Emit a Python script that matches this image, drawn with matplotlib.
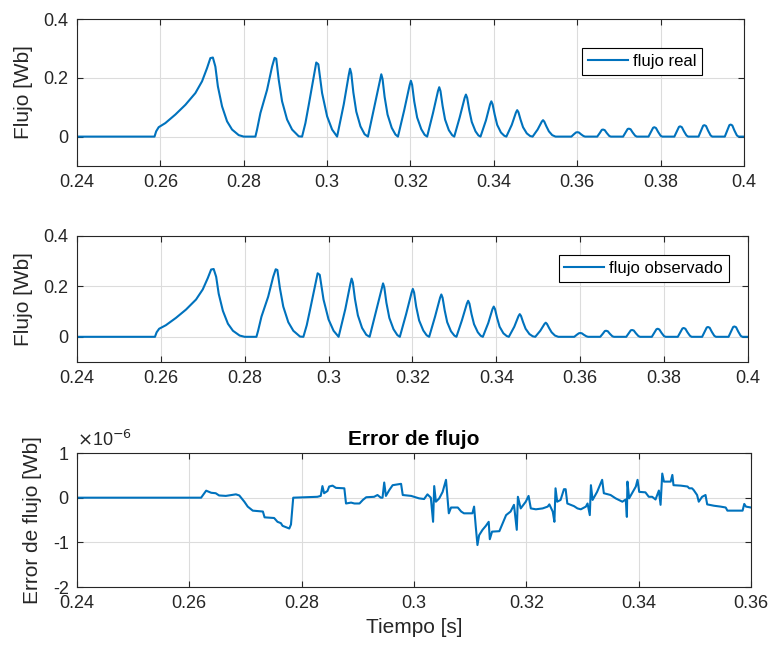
import matplotlib.pyplot as plt

plt.rcParams["font.family"] = ["Liberation Sans", "DejaVu Sans"]

LINE_COLOR = "#0072BD"
AXIS_COLOR = "#262626"

# flujo real (Wb)
t_flujo = [
    0.2400, 0.2586, 0.2590, 0.2596, 0.2612, 0.2636, 0.2660, 0.2684, 0.2700, 0.2712,
    0.2720, 0.2726, 0.2732, 0.2738, 0.2748, 0.2760, 0.2772, 0.2788, 0.2800, 0.2828,
    0.2832, 0.2840, 0.2856, 0.2868, 0.2874, 0.2878, 0.2884, 0.2892, 0.2904, 0.2916,
    0.2932, 0.2940, 0.2948, 0.2956, 0.2968, 0.2974, 0.2979, 0.2988, 0.3000, 0.3012,
    0.3024,
    0.3040, 0.3052, 0.3055, 0.3058, 0.3063, 0.3070, 0.3080, 0.3090, 0.3098,
    0.3113, 0.3127, 0.3130, 0.3133, 0.3138, 0.3145, 0.3155, 0.3164, 0.3170,
    0.3185, 0.3198, 0.3201, 0.3204, 0.3209, 0.3216, 0.3226, 0.3234, 0.3240,
    0.3254, 0.3266, 0.3269, 0.3272, 0.3277, 0.3283, 0.3292, 0.3300, 0.3305,
    0.3318, 0.3330, 0.3333, 0.3336, 0.3341, 0.3347, 0.3356, 0.3363, 0.3368,
    0.3381, 0.3391, 0.3394, 0.3397, 0.3402, 0.3408, 0.3417, 0.3425, 0.3430,
    0.3443, 0.3453, 0.3456, 0.3459, 0.3464, 0.3470, 0.3479, 0.3487, 0.3493,
    0.3505, 0.3515, 0.3518, 0.3521, 0.3526, 0.3532, 0.3540, 0.3548,
    0.3586, 0.3592, 0.3597, 0.3600, 0.3604, 0.3609, 0.3615, 0.3619,
    0.3648, 0.3654, 0.3659, 0.3662, 0.3666, 0.3671, 0.3677, 0.3681,
    0.3710, 0.3716, 0.3721, 0.3724, 0.3728, 0.3733, 0.3739, 0.3743,
    0.3771, 0.3777, 0.3782, 0.3785, 0.3789, 0.3794, 0.3800, 0.3804,
    0.3833, 0.3839, 0.3844, 0.3847, 0.3851, 0.3856, 0.3862, 0.3866,
    0.3891, 0.3897, 0.3902, 0.3905, 0.3909, 0.3914, 0.3920, 0.3924,
    0.3954, 0.3960, 0.3965, 0.3968, 0.3972, 0.3977, 0.3983, 0.3987, 0.4000,
]
flujo_real = [
    0.000, 0.000, 0.018, 0.032, 0.046, 0.075, 0.108, 0.148, 0.188, 0.233,
    0.267, 0.269, 0.238, 0.171, 0.103, 0.052, 0.024, 0.005, 0.000, 0.000,
    0.024, 0.080, 0.159, 0.238, 0.268, 0.265, 0.193, 0.120, 0.058, 0.024,
    0.001, 0.000, 0.046, 0.108, 0.205, 0.252, 0.246, 0.148, 0.069, 0.024,
    0.000,
    0.110, 0.210, 0.231, 0.215, 0.150, 0.085, 0.035, 0.008, 0.000,
    0.100, 0.195, 0.212, 0.196, 0.135, 0.075, 0.030, 0.007, 0.000,
    0.090, 0.175, 0.190, 0.176, 0.120, 0.065, 0.025, 0.006, 0.000,
    0.080, 0.155, 0.168, 0.155, 0.105, 0.058, 0.022, 0.005, 0.000,
    0.065, 0.132, 0.143, 0.132, 0.090, 0.050, 0.018, 0.004, 0.000,
    0.055, 0.110, 0.120, 0.110, 0.075, 0.040, 0.014, 0.003, 0.000,
    0.040, 0.082, 0.090, 0.083, 0.058, 0.032, 0.011, 0.002, 0.000,
    0.024, 0.051, 0.056, 0.051, 0.035, 0.018, 0.005, 0.000,
    0.000, 0.008, 0.014, 0.015, 0.014, 0.008, 0.002, 0.000,
    0.000, 0.012, 0.023, 0.024, 0.022, 0.012, 0.002, 0.000,
    0.000, 0.014, 0.026, 0.027, 0.025, 0.014, 0.003, 0.000,
    0.000, 0.016, 0.030, 0.032, 0.029, 0.016, 0.003, 0.000,
    0.000, 0.018, 0.033, 0.035, 0.032, 0.018, 0.004, 0.000,
    0.000, 0.020, 0.037, 0.039, 0.036, 0.020, 0.004, 0.000,
    0.000, 0.021, 0.039, 0.041, 0.038, 0.021, 0.004, 0.000, 0.000,
]
# el observado difiere del real en ~1e-6 Wb, no se distingue a esta escala
flujo_obs = list(flujo_real)

# error de flujo, en unidades de 1e-6 Wb
t_error = [
    0.2400, 0.2621, 0.2630, 0.2639, 0.2647, 0.2653, 0.2665, 0.2683, 0.2689, 0.2698,
    0.2704, 0.2713, 0.2731, 0.2734, 0.2751, 0.2757, 0.2763, 0.2766, 0.2778, 0.2781,
    0.2785, 0.2828, 0.2834, 0.2837, 0.2840, 0.2846, 0.2849, 0.2855, 0.2861, 0.2876,
    0.2879, 0.2888, 0.2894, 0.2903, 0.2909, 0.2915, 0.2929, 0.2935, 0.2941, 0.2944,
    0.2947, 0.2950, 0.2956, 0.2962, 0.2977, 0.2980, 0.2995, 0.3009, 0.3018, 0.3024,
    0.3030, 0.3034, 0.3036, 0.3039, 0.3045, 0.3051, 0.3057, 0.3062, 0.3066, 0.3078,
    0.3084, 0.3089, 0.3104, 0.3107, 0.3110, 0.3113, 0.3116, 0.3122, 0.3128, 0.3133,
    0.3135, 0.3139, 0.3152, 0.3158, 0.3164, 0.3172, 0.3178, 0.3183, 0.3185, 0.3190,
    0.3199, 0.3204, 0.3208, 0.3217, 0.3229, 0.3238, 0.3241, 0.3247, 0.3250, 0.3252,
    0.3255, 0.3261, 0.3267, 0.3270, 0.3273, 0.3285, 0.3291, 0.3297, 0.3306, 0.3309,
    0.3313, 0.3315, 0.3318, 0.3326, 0.3335, 0.3338, 0.3350, 0.3359, 0.3371, 0.3377,
    0.3379, 0.3380, 0.3383, 0.3395, 0.3398, 0.3401, 0.3412, 0.3418, 0.3424, 0.3430,
    0.3433, 0.3436, 0.3439, 0.3442, 0.3445, 0.3457, 0.3460, 0.3462, 0.3475, 0.3487,
    0.3490, 0.3495, 0.3498, 0.3504, 0.3507, 0.3513, 0.3519, 0.3522, 0.3534, 0.3546,
    0.3555, 0.3558, 0.3585, 0.3588, 0.3591, 0.3600,
]
error_flujo = [
    0.000, 0.000, 0.157, 0.110, 0.100, 0.050, 0.040, 0.075, 0.050, -0.090,
    -0.200, -0.290, -0.310, -0.440, -0.455, -0.540, -0.570, -0.630, -0.690, -0.600,
    0.000, 0.020, 0.040, 0.260, 0.100, 0.150, 0.250, 0.270, 0.220, 0.210,
    -0.130, -0.110, -0.130, -0.130, -0.050, 0.010, 0.020, 0.060, 0.000, 0.000,
    0.340, 0.040, 0.170, 0.280, 0.310, 0.060, 0.040, -0.015, -0.030, 0.075,
    0.000, -0.540, 0.260, -0.090, -0.015, 0.130, 0.400, -0.350, -0.220, -0.220,
    -0.310, -0.350, -0.350, -0.200, -0.650, -1.060, -0.840, -0.720, -0.630, -0.540,
    -0.930, -0.760, -0.750, -0.570, -0.390, -0.310, -0.160, -0.720, 0.020, -0.240,
    -0.090, 0.040, -0.240, -0.260, -0.240, -0.200, -0.150, -0.310, -0.540, 0.210,
    -0.090, -0.050, 0.190, 0.190, -0.130, -0.190, -0.240, -0.260, -0.200, -0.130,
    -0.390, 0.280, -0.050, 0.130, 0.400, 0.100, 0.060, -0.015, -0.090, -0.040,
    -0.430, 0.360, -0.015, 0.250, 0.400, 0.130, 0.120, 0.020, 0.020, -0.040,
    0.060, 0.160, -0.160, 0.540, 0.360, 0.360, 0.510, 0.280, 0.270, 0.250,
    0.210, 0.210, 0.170, 0.060, -0.090, 0.020, 0.060, -0.150, -0.180, -0.200,
    -0.220, -0.290, -0.290, -0.140, -0.200, -0.220,
]

xticks_flujo = [0.24, 0.26, 0.28, 0.3, 0.32, 0.34, 0.36, 0.38, 0.4]
xticks_error = [0.24, 0.26, 0.28, 0.3, 0.32, 0.34, 0.36]


def style_axes(ax):
    ax.grid(True, color="#dcdcdc", linewidth=0.8)
    ax.set_axisbelow(True)
    ax.tick_params(direction="in", top=True, right=True, length=4,
                   labelsize=13, colors=AXIS_COLOR, pad=6)
    for spine in ax.spines.values():
        spine.set_color(AXIS_COLOR)
        spine.set_linewidth(0.8)


def tick_text(v):
    return f"{v:g}"


fig = plt.figure(figsize=(7.72, 6.51), dpi=100)
ax1 = fig.add_axes([0.0997, 0.745, 0.864, 0.2258])
ax2 = fig.add_axes([0.0997, 0.4439, 0.869, 0.1936])
ax3 = fig.add_axes([0.0997, 0.0983, 0.8731, 0.2058])

for ax, y, label, anchor in [
    (ax1, flujo_real, "flujo real", (0.937, 0.803)),
    (ax2, flujo_obs, "flujo observado", (0.972, 0.849)),
]:
    ax.plot(t_flujo, y, color=LINE_COLOR, linewidth=1.5, label=label)
    ax.set_xlim(0.24, 0.4)
    ax.set_ylim(-0.1, 0.4)
    ax.set_xticks(xticks_flujo)
    ax.set_xticklabels([tick_text(v) for v in xticks_flujo])
    ax.set_yticks([0, 0.2, 0.4])
    ax.set_yticklabels(["0", "0.2", "0.4"])
    ax.set_ylabel("Flujo [Wb]", fontsize=15, color=AXIS_COLOR, labelpad=8)
    style_axes(ax)
    leg = ax.legend(loc="upper right", bbox_to_anchor=anchor, borderaxespad=0,
                    fontsize=12, handlelength=2.4, handletextpad=0.3,
                    fancybox=False, framealpha=1, borderpad=0.35)
    leg.get_frame().set_edgecolor("black")
    leg.get_frame().set_linewidth(0.8)

ax3.plot(t_error, error_flujo, color=LINE_COLOR, linewidth=1.5)
ax3.set_xlim(0.24, 0.36)
ax3.set_ylim(-2, 1)
ax3.set_xticks(xticks_error)
ax3.set_xticklabels([tick_text(v) for v in xticks_error])
ax3.set_yticks([-2, -1, 0, 1])
ax3.set_yticklabels(["-2", "-1", "0", "1"])
ax3.set_ylabel("Error de flujo [Wb]", fontsize=15, color=AXIS_COLOR, labelpad=8)
ax3.set_xlabel("Tiempo [s]", fontsize=15, color=AXIS_COLOR)
ax3.set_title("Error de flujo", fontsize=15, fontweight="bold", color="black", pad=6)
ax3.text(0.0, 1.02, "$\\times$10$^{-6}$", transform=ax3.transAxes,
         fontsize=13, color=AXIS_COLOR, ha="left", va="bottom")
style_axes(ax3)

fig.savefig("out.png", dpi=100)
